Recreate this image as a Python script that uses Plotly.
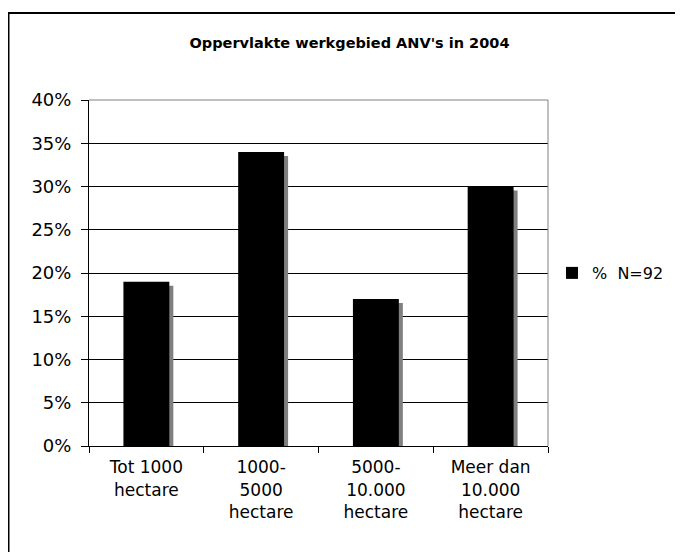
import plotly.graph_objects as go

# data
categorieen = [
    "Tot 1000<br>hectare",
    "1000-<br>5000<br>hectare",
    "5000-<br>10.000<br>hectare",
    "Meer dan<br>10.000<br>hectare",
]
percentages = [19, 34, 17, 30]
reeks_naam = "%  N=92"
titel = "Oppervlakte werkgebied ANV's in 2004"

FONT = "DejaVu Sans, Verdana, sans-serif"
W, H = 683, 552
OFF = 8  # standaard marge van de pagina rond de figuur
# plotvlak in paginapixels: x 89..548, y 100..446
PX0, PX1, PY0, PY1 = 89, 548, 100, 446
L = PX0 - OFF
T = PY0 - OFF
plot_w = PX1 - PX0
plot_h = PY1 - PY0
R = W - L - plot_w
B = H - T - plot_h
Y_MAX = 40

# schaduw: een paar pixels naar rechts en omlaag
px_per_unit = plot_h / Y_MAX
schaduw_dy = 4 / px_per_unit
schaduw = [max(v - schaduw_dy, 0) for v in percentages]


def px_x(p):
    return (p - PX0) / plot_w


def px_y(p):
    return (PY1 - p) / plot_h


fig = go.Figure()
fig.add_trace(go.Bar(
    x=categorieen, y=schaduw, width=0.4, offset=-0.165,
    marker=dict(color="#808080", line=dict(width=0)),
    showlegend=False, hoverinfo="skip",
))
fig.add_trace(go.Bar(
    x=categorieen, y=percentages, width=0.4, offset=-0.2,
    marker=dict(color="#000000", line=dict(width=0)),
    name=reeks_naam,
))

fig.update_layout(
    width=W, height=H,
    margin=dict(l=L, r=R, t=T, b=B),
    paper_bgcolor="white", plot_bgcolor="white",
    barmode="overlay",
    font=dict(family=FONT, size=17, color="black"),
    title=dict(
        text=f"<b>{titel}</b>", x=0.5, xanchor="center",
        y=1 - (43 - OFF) / H, yanchor="middle", yref="container",
        font=dict(family=FONT, size=14.5, color="black"),
    ),
    xaxis=dict(
        type="category", tickson="boundaries",
        showline=True, linecolor="black", linewidth=1,
        ticks="outside", ticklen=6, tickcolor="black",
        showgrid=False, tickfont=dict(size=17),
        ticklabelstandoff=6,
    ),
    yaxis=dict(
        range=[0, Y_MAX], dtick=5, ticksuffix="%",
        showline=True, linecolor="black", linewidth=1,
        ticks="outside", ticklen=7, tickcolor="black",
        showgrid=True, gridcolor="black", gridwidth=1,
        zeroline=False, tickfont=dict(size=18),
        ticklabelstandoff=6,
    ),
    legend=dict(
        x=px_x(552), xanchor="left", y=0.5, yanchor="middle",
        font=dict(size=16), bgcolor="rgba(0,0,0,0)",
        itemwidth=30,
    ),
    shapes=[
        # grijze rand boven en rechts van het plotvlak
        dict(type="line", xref="paper", yref="paper", x0=0, x1=1, y0=1, y1=1,
             line=dict(color="#808080", width=1), layer="above"),
        dict(type="line", xref="paper", yref="paper", x0=1, x1=1, y0=0, y1=1,
             line=dict(color="#808080", width=1), layer="above"),
        # rand rond de hele grafiek
        dict(type="rect", xref="paper", yref="paper",
             x0=px_x(OFF + 0.5), x1=px_x(W + 60), y0=px_y(13), y1=px_y(H + 60),
             line=dict(color="black", width=2), layer="above"),
    ],
)

fig.write_html("out.html")
